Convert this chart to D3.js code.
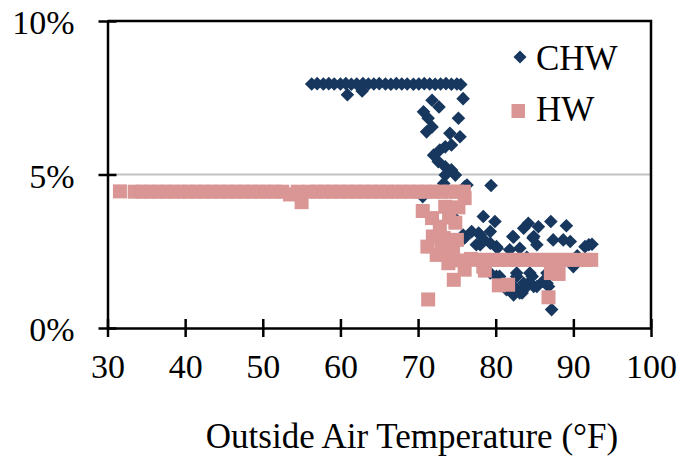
<!DOCTYPE html>
<html>
<head>
<meta charset="utf-8">
<script src="https://cdn.jsdelivr.net/npm/d3@7"></script>
<style>
  body { margin: 0; background: #fff; }
  svg text { font-family: "Liberation Serif", "Times New Roman", serif; fill: #000; }
</style>
</head>
<body>
<svg id="chart" width="683" height="457"></svg>
<script>
// Data: [outside air temp °F, percent]
const chwPoints = [
  // flat band near 8%
  [56.3,7.95],[57,7.96],[57.8,7.95],[58.5,7.96],[59.2,7.95],[60,7.95],[60.7,7.96],[61.4,7.94],
  [62.1,7.95],[62.9,7.96],[63.6,7.95],[64.3,7.95],[65,7.96],[65.8,7.95],[66.5,7.94],[67.2,7.96],
  [67.9,7.95],[68.6,7.95],[69.4,7.94],[70.1,7.95],[70.8,7.96],[71.5,7.95],[72.2,7.94],[72.9,7.95],
  [73.6,7.96],[74.3,7.94],[75,7.95],[75.5,7.93],
  // drop-off
  [60.9,7.6],[62.8,7.72],[75.8,7.47],[71.8,7.42],[72.7,7.2],[70.7,7.04],[71.3,6.83],[75.2,6.83],
  [71.1,6.39],[71.8,6.55],[74.1,6.34],[75.4,6.23],[72.0,5.63],[72.8,5.8],[73.5,5.9],[74.3,5.96],
  [72.6,5.42],[73.5,5.25],[74.3,5.15],[73.5,4.98],[74.8,4.98],[76.3,4.66],[79.4,4.64],[73.3,4.71],
  [76.0,4.6],[70.6,4.28],
  // middle
  [73.9,3.95],[74.5,3.63],[78.4,3.63],[79.9,3.47],[75.8,3.03],[76.9,3.14],[78,3.03],[77.5,2.71],
  [79.3,2.76],[79.3,1.79],[77.8,3.09],[79.3,3.14],[76.0,2.93],[78.0,2.71],[80.1,2.65],
  // right cluster
  [84.2,3.41],[85.5,3.3],[87.1,3.47],[89.1,3.33],[82.2,2.98],[83.6,3.25],[84.9,2.98],[84.8,2.93],
  [87.4,2.87],[88.7,2.87],[89.6,2.82],[92.0,2.71],[92.4,2.73],[91.5,2.65],[78.5,2.87],[80.2,2.6],
  [83.1,2.6],[81.8,2.55],[90.0,2.0],[82.3,2.96],[85.3,2.71],[81,2.2],[84,2.3],[88,2.1],[90.5,2.35],
  // lower cluster
  [80.1,1.68],[80.5,1.68],[82.7,1.68],[84.4,1.79],[82.3,1.35],[83.6,1.25],[84.9,1.35],[82.3,1.08],
  [83.4,1.14],[86.1,1.52],[86.8,1.35],[87.2,0.6],[84.2,1.46],[83.6,1.46],[85.3,1.35],[86.6,1.46],
  [84.7,1.68],[82.7,1.79],[86.6,1.79],[81.4,1.25],[83.1,1.14]
];

const hwPoints = [
  // flat band near 4.4%
  [31.6,4.45],[33.5,4.44],[34.5,4.44],[35.5,4.44],[36.5,4.44],[37.5,4.44],[38.5,4.44],[39.5,4.44],
  [40.5,4.44],[41.5,4.44],[42.5,4.44],[43.5,4.44],[44.5,4.44],[45.5,4.44],[46.5,4.44],[47.5,4.44],
  [48.5,4.44],[49.5,4.44],[50.5,4.44],[51.5,4.44],[52.5,4.44],[53.5,4.35],[55,4.1],[54.5,4.44],
  [56,4.44],[57,4.44],[58,4.44],[59,4.44],[60,4.44],[61,4.44],[62,4.44],[63,4.44],[64,4.44],
  [65,4.44],[66,4.44],[67,4.44],[68,4.44],[69,4.44],[70,4.44],[71,4.44],[72,4.44],[73,4.44],
  [74,4.44],[75,4.44],[75.9,4.44],
  // scatter around 70-77
  [70.6,3.81],[71.8,3.58],[73.5,3.95],[75.2,3.93],[76,4.23],[74.8,3.43],[71.9,2.98],[71.2,2.65],
  [73.3,2.93],[75,2.87],[72.4,2.38],[73.9,2.11],[74.6,1.57],[76,1.9],[71.3,0.93],[72.8,3.3],
  [74,3.6],[73,2.6],[73.9,2.48],[74.5,2.45],[75.5,2.2],[76.8,2.25],
  // flat band near 2.2%
  [77.6,2.22],[78.6,2.22],[79.6,2.22],[80.6,2.22],[81.6,2.22],[82.6,2.22],[83.6,2.22],[84.6,2.22],
  [85.6,2.22],[86.6,2.22],[87.6,2.22],[88.6,2.22],[89.6,2.22],[90.6,2.22],[91.6,2.22],[92.3,2.22],
  // below the band
  [80.4,1.39],[81.6,1.41],[87.1,1.79],[88.1,1.76],[86.8,1.0],[78.6,1.87],[78.4,2.0]
];

const xTicks = [30, 40, 50, 60, 70, 80, 90, 100];
const yTicks = [0, 5, 10];
const seriesNames = ["CHW", "HW"];

const W = 683, H = 457;
const margin = { top: 21, right: 32, bottom: 129, left: 107.5 };
const svg = d3.select("#chart");
svg.append("rect").attr("width", W).attr("height", H).attr("fill", "#fff");

const x = d3.scaleLinear().domain([30, 100]).range([margin.left, W - margin.right]);
const y = d3.scaleLinear().domain([0, 10]).range([H - margin.bottom, margin.top]);

const chwColor = "#17375e", hwColor = "#d99694";

// 5% gridline
svg.append("line")
  .attr("x1", x(30)).attr("x2", x(100))
  .attr("y1", y(5)).attr("y2", y(5))
  .attr("stroke", "#c3c3c3").attr("stroke-width", 2);

// plot border (top + right)
svg.append("path")
  .attr("d", `M${x(30)},${y(10)}H${x(100)}V${y(0)}`)
  .attr("fill", "none").attr("stroke", "#000").attr("stroke-width", 2.5);

const diamond = r => `M0,${-r}L${r},0L0,${r}L${-r},0Z`;

svg.append("g").selectAll("path")
  .data(chwPoints)
  .join("path")
  .attr("d", diamond(6.8))
  .attr("transform", d => `translate(${x(d[0])},${y(d[1])})`)
  .attr("fill", chwColor);

svg.append("g").selectAll("rect")
  .data(hwPoints)
  .join("rect")
  .attr("x", d => x(d[0]) - 7)
  .attr("y", d => y(d[1]) - 7)
  .attr("width", 14).attr("height", 14)
  .attr("fill", hwColor);

// axes with crossing tick marks
const xAxis = svg.append("g")
  .attr("transform", `translate(0,${y(0)})`)
  .call(d3.axisBottom(x).tickValues(xTicks).tickSize(0).tickPadding(26).tickSizeOuter(0));
xAxis.selectAll(".tick line").attr("y1", -9).attr("y2", 9);
const yAxis = svg.append("g")
  .attr("transform", `translate(${x(30)},0)`)
  .call(d3.axisLeft(y).tickValues(yTicks).tickSize(0).tickPadding(33).tickSizeOuter(0)
    .tickFormat(d => d + "%"));
yAxis.selectAll(".tick line").attr("x1", -9).attr("x2", 9);

[xAxis, yAxis].forEach(g => {
  g.select(".domain").attr("stroke", "#000").attr("stroke-width", 2.5);
  g.selectAll(".tick line").attr("stroke", "#000").attr("stroke-width", 2.5);
  g.selectAll(".tick text").attr("font-size", 34).attr("font-family", "Liberation Serif");
});
yAxis.selectAll(".tick text").attr("dy", "0.38em");

// axis title
svg.append("text")
  .attr("x", 412).attr("y", 448)
  .attr("text-anchor", "middle")
  .attr("font-size", 35)
  .text("Outside Air Temperature (°F)");

// legend
const legend = svg.append("g");
legend.append("path")
  .attr("d", diamond(6.5))
  .attr("transform", "translate(520,57)")
  .attr("fill", chwColor);
legend.append("rect")
  .attr("x", 511.5).attr("y", 104).attr("width", 13.5).attr("height", 14)
  .attr("fill", hwColor);
legend.selectAll("text")
  .data(seriesNames)
  .join("text")
  .attr("x", 536)
  .attr("y", (d, i) => 70 + i * 51)
  .attr("font-size", 35)
  .text(d => d);
</script>
</body>
</html>
